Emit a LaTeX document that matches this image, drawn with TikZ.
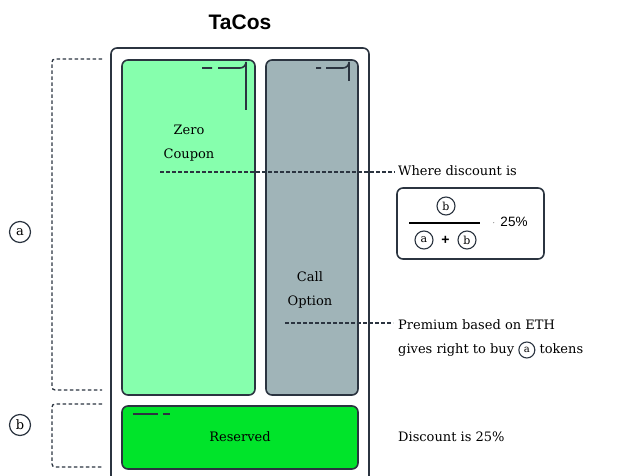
\documentclass[tikz,border=0pt]{standalone}
\usepackage{fontspec}
\setmainfont{DejaVu Serif}
\newfontfamily\titlefont{Liberation Sans}
\begin{document}
\begin{tikzpicture}[x=1pt,y=-1pt,
  edge/.style={draw=dark,line width=1.6pt},
  part/.style={edge,rounded corners=6pt},
  brk/.style={draw=dark,line width=1.3pt,dash pattern=on 3.5pt off 2.5pt},
  lbl/.style={font=\fontsize{13}{16}\selectfont,text=black},
  circ/.style={circle,draw=dark,line width=1.2pt,inner sep=0pt,minimum size=21pt,font=\fontsize{13}{14}\selectfont},
  scirc/.style={circle,draw=dark,line width=1.1pt,inner sep=0pt,minimum size=18pt,font=\fontsize{11}{12}\selectfont}]
\definecolor{dark}{HTML}{2B3440}
\definecolor{zc}{HTML}{86FFAD}
\definecolor{co}{HTML}{A0B4B8}
\definecolor{rs}{HTML}{00E42A}
\useasboundingbox (0,0) rectangle (621,476);
\begin{scope}
\clip (0,0) rectangle (621,476);
\draw[part,fill=white] (111,48) rectangle (369,490);
\end{scope}
\node[font=\titlefont\bfseries\fontsize{21}{22}\selectfont] (title) at (240,22) {TaCos};
% parts
\draw[part,fill=zc] (122,60) rectangle (255,395);
\draw[part,fill=co] (266,60) rectangle (358,395);
\draw[part,fill=rs] (122,406) rectangle (358,469);
% decorations
\draw[edge] (202,68) -- (212,68) (218,68) -- (240,68) arc[start angle=90,end angle=0,radius=6] -- (246,110);
\draw[edge] (316,68) -- (321,68) (326,68) -- (343,68) arc[start angle=90,end angle=0,radius=6] -- (349,81);
\draw[edge] (133,414) -- (158,414) (163,414) -- (170,414);
% labels in parts
\node[lbl,align=center] (zero) at (189,143) {Zero\\[8pt]Coupon};
\node[lbl,align=center] (call) at (310,290) {Call\\[8pt]Option};
\node[lbl] (res) at (240,437) {Reserved};
% right texts
\node[lbl,anchor=west,inner sep=0pt] (where) at (398,171) {Where discount is};
\node[lbl,anchor=west,inner sep=0pt] (prem) at (398,325) {Premium based on ETH};
\node[lbl,anchor=west,inner sep=0pt] (gives) at (398,350) {gives right to buy \tikz[baseline=-3.8pt]\node[scirc,font=\fontsize{10}{11}\selectfont,minimum size=16pt]{a};\ tokens};
\node[lbl,anchor=west,inner sep=0pt] (disc) at (398,437) {Discount is 25\%};
\coordinate (zs) at (160,172);
\coordinate (cs) at (285,323);
\draw[brk,line width=1.1pt] (zs) -- ([xshift=-3pt]zs -| where.west);
\draw[brk,line width=1.1pt] (cs) -- ([xshift=-5pt]cs -| prem.west);
% formula box
\draw[draw=dark,line width=1.6pt,rounded corners=6pt] (397,188) rectangle (544,259);
\node[scirc] (fb) at (446,206) {b};
\draw[line width=1.2pt] (409,223) -- (480,223);
\node[scirc] (fa2) at (424,240) {a};
\node[font=\titlefont\bfseries\fontsize{14}{14}\selectfont] (plus) at (445.5,240) {+};
\node[scirc] (fb2) at (467,240) {b};
\node[font=\fontsize{9}{9}\selectfont] (dot) at (494,223) {$\cdot$};
\node[font=\titlefont\fontsize{13.5}{14}\selectfont] (pct) at (514,222) {25\%};
% brackets
\draw[brk] (102,59) -- (55,59) to[out=180,in=90] (52,62) -- (52,387) to[out=-90,in=180] (55,390) -- (102,390);
\draw[brk] (102,404) -- (55,404) to[out=180,in=90] (52,407) -- (52,464) to[out=-90,in=180] (55,467) -- (102,467);
\node[circ] (ca) at (20,232) {a};
\node[circ] (cb) at (20,425) {b};
\end{tikzpicture}
\end{document}
